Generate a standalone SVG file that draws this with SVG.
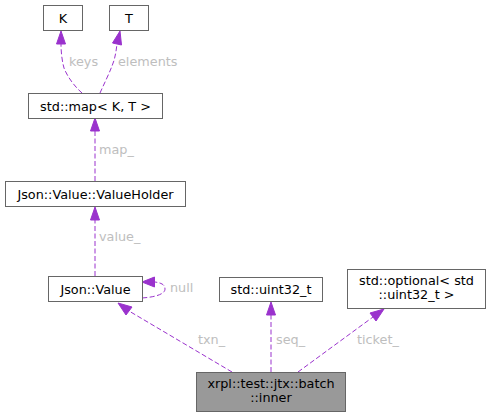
<svg xmlns="http://www.w3.org/2000/svg" width="491" height="417" viewBox="0 0 491 417">
<defs>
<style>
.n{fill:#fff;stroke:#666;stroke-width:1}
.h{fill:#999;stroke:#666;stroke-width:1}
.t{font-family:"DejaVu Sans",sans-serif;font-size:12.8px;fill:#000;text-anchor:middle}
.l{font-family:"DejaVu Sans",sans-serif;font-size:12.8px;fill:#bebebe}
.e{fill:none;stroke:#9a32cd;stroke-width:1;stroke-dasharray:5,2.5}
.a{fill:#9a32cd;stroke:#9a32cd}
</style>
</defs>
<rect width="491" height="417" fill="#fff"/>
<g id="connectors">
<path class="e" d="M82,93 C74,86 67,76 64,68 C62,61 61,52 61,44"/>
<polygon class="a" points="56.5,44 61,31 65.5,44"/>
<text class="l" x="69" y="66">keys</text>
<path class="e" d="M100,93 C104,84 109,74 112,66 C115,59 116,52 117,44"/>
<polygon class="a" points="112.5,43 120,31 121.5,45"/>
<text class="l" x="118" y="66">elements</text>
<path class="e" d="M95,181 L95,131"/>
<polygon class="a" points="90.5,131 95,118 99.5,131"/>
<text class="l" x="99" y="154">map_</text>
<path class="e" d="M95,276 L95,220"/>
<polygon class="a" points="90.5,220 95,207 99.5,220"/>
<text class="l" x="99" y="241">value_</text>
<path class="e" d="M142,298 C156,297 165,294 165,289 C165,285 162,283 155,282"/>
<polygon class="a" points="154.5,277 142,282 154.5,287"/>
<text class="l" x="170" y="292">null</text>
<path class="e" d="M232,372 L129,311"/>
<polygon class="a" points="126,315 118,303 132,307"/>
<text class="l" x="198" y="344">txn_</text>
<path class="e" d="M271,372 L271,315"/>
<polygon class="a" points="266.5,315 271,302 275.5,315"/>
<text class="l" x="276" y="344">seq_</text>
<path class="e" d="M298,372 L373,317"/>
<polygon class="a" points="370,313 384,309 376,321"/>
<text class="l" x="357" y="344">ticket_</text>
</g>
<g id="K"><rect class="n" x="43.5" y="5.5" width="39" height="25"/><text class="t" x="63" y="22.5">K</text></g>
<g id="T"><rect class="n" x="109.5" y="5.5" width="39" height="25"/><text class="t" x="129" y="22.5">T</text></g>
<g id="map"><rect class="n" x="28.5" y="93.5" width="134" height="25"/><text class="t" x="95.5" y="110.5">std::map&lt; K, T &gt;</text></g>
<g id="valueholder"><rect class="n" x="5.5" y="181.5" width="180" height="25"/><text class="t" x="95.5" y="198.5">Json::Value::ValueHolder</text></g>
<g id="value"><rect class="n" x="48.5" y="276.5" width="94" height="25"/><text class="t" x="95.5" y="293.5">Json::Value</text></g>
<g id="uint32"><rect class="n" x="219.5" y="277.5" width="103" height="24"/><text class="t" x="271" y="294">std::uint32_t</text></g>
<g id="optional"><rect class="n" x="347.5" y="269.5" width="138" height="39"/><text class="t" x="416.5" y="285">std::optional&lt; std</text><text class="t" x="416.5" y="299">::uint32_t &gt;</text></g>
<g id="inner"><rect class="h" x="196.5" y="372.5" width="149" height="39"/><text class="t" x="271" y="388">xrpl::test::jtx::batch</text><text class="t" x="271" y="402">::inner</text></g>
</svg>
